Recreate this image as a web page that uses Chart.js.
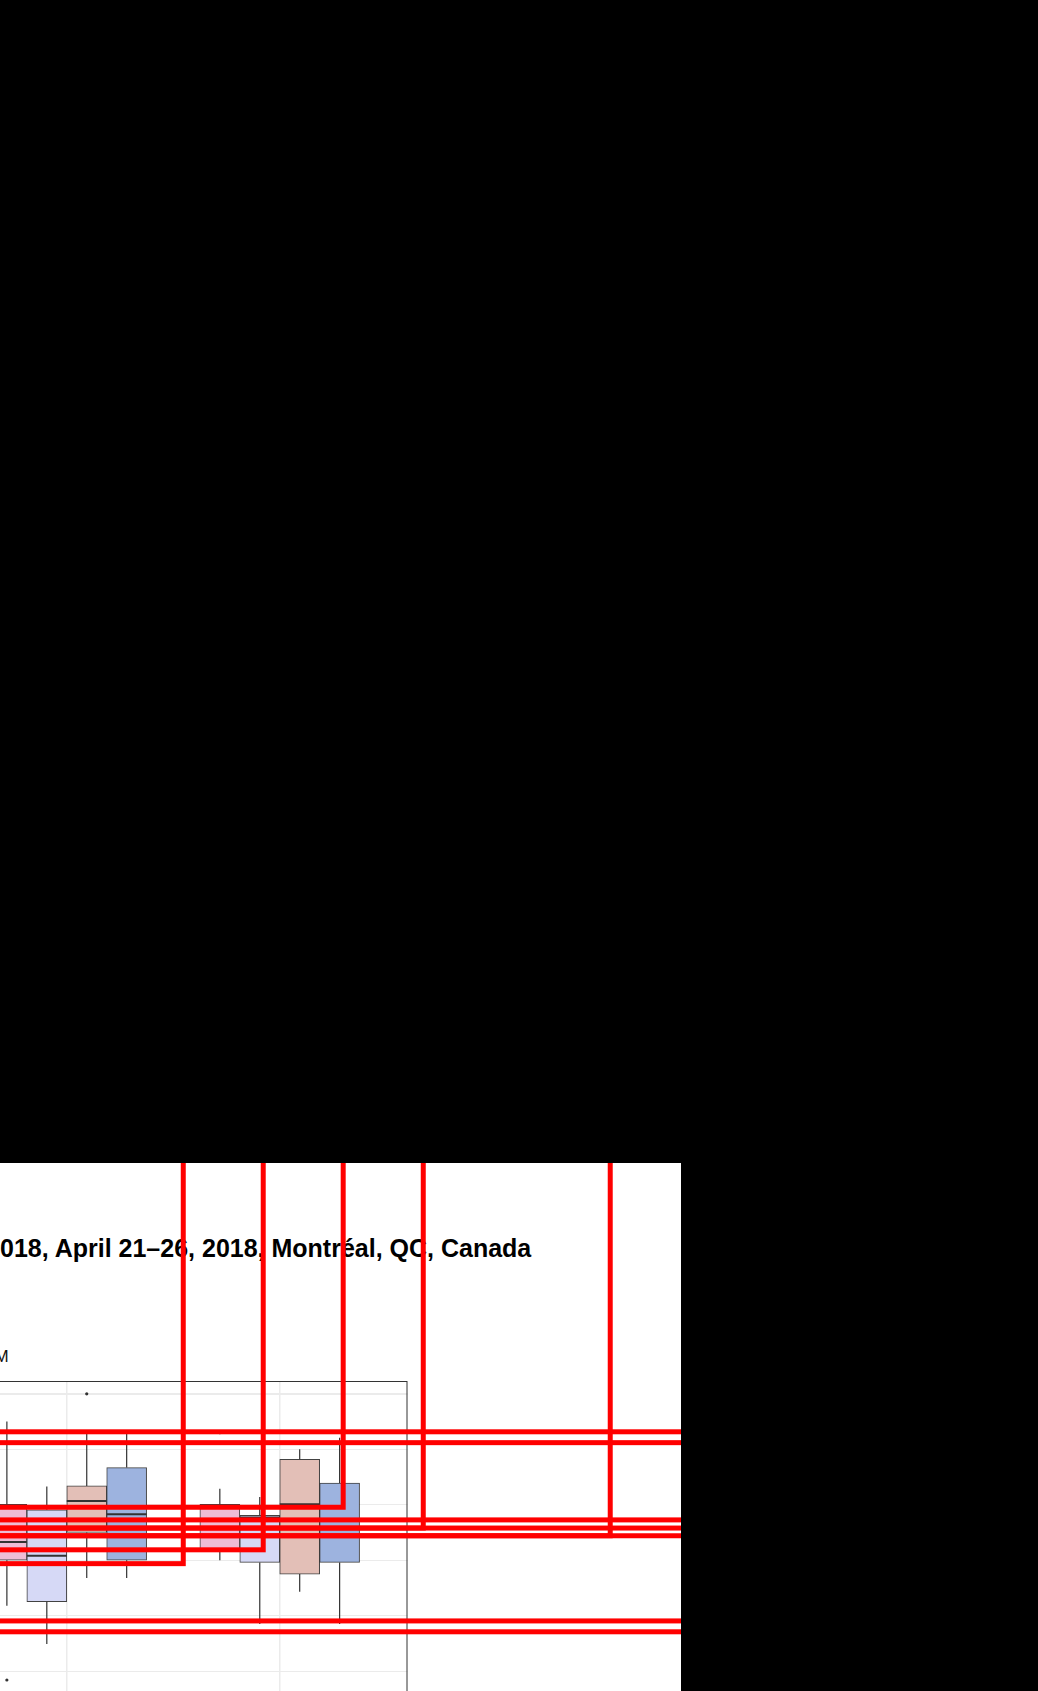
<!DOCTYPE html>
<html><head><meta charset="utf-8">
<script src="https://cdn.jsdelivr.net/npm/chart.js@4.4.1/dist/chart.umd.min.js"></script>
<style>
html,body{margin:0;padding:0;background:#000;width:1038px;height:1691px;overflow:hidden;}
#crop{position:absolute;left:0;top:1163px;width:681px;height:528px;background:#fff;overflow:hidden;}
#head{position:absolute;left:0;top:73px;font:bold 25px/25px "Liberation Sans",Arial,sans-serif;color:#000;white-space:nowrap;}
#lbl{position:absolute;left:-5.4px;top:184.6px;font:17px/17px "Liberation Sans",Arial,sans-serif;color:#111;white-space:nowrap;}
#c{position:absolute;left:-100px;top:0;}
</style></head>
<body>
<div id="crop">
<div id="head">018, April 21–26, 2018, Montréal, QC, Canada</div>
<div id="lbl">M</div>
<canvas id="c" width="781" height="623"></canvas>
</div>
<script>
// ---- data ----
const groups = [1, 2];                       // category positions (two visible groups)
// per series, per group: [whiskerLow, q1, median, q3, whiskerHigh]
const series1Box = [[3.18, 4.00, 4.33, 5.01, 6.50], [4.00, 4.20, 4.59, 5.01, 5.29]];
const series2Box = [[2.49, 3.25, 4.08, 4.91, 5.33], [2.85, 3.96, 4.77, 4.81, 5.14]];
const series3Box = [[3.68, 4.50, 5.07, 5.34, 6.32], [3.43, 3.75, 5.01, 5.82, 6.00]];
const series4Box = [[3.68, 4.00, 4.83, 5.67, 6.32], [2.85, 3.96, 4.57, 5.39, 6.21]];
// outliers per series, per group
const series1Out = [[1.84], [6.30]];
const series2Out = [[], []];
const series3Out = [[7.00], []];
const series4Out = [[], []];
// y grid ticks
const yTicks = [0, 1, 2, 3, 4, 5, 6, 7];
const yMajorTicks = [7];
// red highlight rectangles (data units): left, top, right, bottom
const markLeft   = [-1, -1, -1, -1, -1, -1, -1, -1, -1, -1, -1, -1];
const markTop    = [12, 12, 12, 12, 12, 12, 12, 12, 12, 12, 12, 12];
const markRight  = [1.547, 1.9225, 2.298, 2.674, 3.552, 4, 4, 4, 4, 4, 4, 4];
const markBottom = [3.938, 4.1875, 4.955, 4.580, 4.441, 6.316, 6.120, 4.727, 4.580, 4.441, 2.905, 2.709];

// ---- styling / layout ----
const boxSeries = [series1Box, series2Box, series3Box, series4Box];
const outSeries = [series1Out, series2Out, series3Out, series4Out];
const seriesColors = ['#EEBCD5', '#D6D9F6', '#E3BFB7', '#9DB3DF'];
const dodgeWidth = 0.75;
const dodge = i => (i - (boxSeries.length - 1) / 2) * dodgeWidth / boxSeries.length;

const datasets = boxSeries.map((s, si) => ({
  type: 'bar',
  data: s.map((b, gi) => ({ x: groups[gi] + dodge(si), y: [b[1], b[3]] })),
  backgroundColor: seriesColors[si],
  borderColor: 'rgba(45,45,45,0.9)',
  borderWidth: 1,
  borderSkipped: false,
  grouped: false,
  barPercentage: 1,
  categoryPercentage: 1
}));
const outPts = [];
outSeries.forEach((s, si) => s.forEach((vals, gi) => vals.forEach(v => outPts.push({ x: groups[gi] + dodge(si), y: v }))));
datasets.push({
  type: 'scatter', data: outPts, pointRadius: 1.6, pointBackgroundColor: '#333',
  pointBorderWidth: 0, showLine: false
});

const boxDecor = {
  id: 'boxDecor',
  beforeDatasetsDraw(chart) {
    const { ctx, scales: { x, y } } = chart;
    ctx.save();
    ctx.strokeStyle = '#333'; ctx.lineWidth = 1.2;
    boxSeries.forEach((s, si) => s.forEach((b, gi) => {
      const px = x.getPixelForValue(groups[gi] + dodge(si));
      ctx.beginPath();
      ctx.moveTo(px, y.getPixelForValue(b[0])); ctx.lineTo(px, y.getPixelForValue(b[1]));
      ctx.moveTo(px, y.getPixelForValue(b[3])); ctx.lineTo(px, y.getPixelForValue(b[4]));
      ctx.stroke();
    }));
    ctx.restore();
  },
  afterDatasetsDraw(chart) {
    const { ctx, scales: { x, y }, chartArea: a } = chart;
    ctx.save();
    ctx.strokeStyle = '#333'; ctx.lineWidth = 2;
    boxSeries.forEach((s, si) => {
      const meta = chart.getDatasetMeta(si);
      meta.data.forEach((bar, gi) => {
        const p = bar.getProps(['x', 'width'], true);
        const py = y.getPixelForValue(s[gi][2]);
        ctx.beginPath();
        ctx.moveTo(p.x - p.width / 2, py); ctx.lineTo(p.x + p.width / 2, py);
        ctx.stroke();
      });
    });
    // panel border
    ctx.strokeStyle = '#333'; ctx.lineWidth = 1;
    ctx.strokeRect(a.left, Math.round(a.top) + 0.5, a.right - a.left - 0.5, a.bottom - a.top);
    ctx.restore();
  },
  afterDraw(chart) {
    const { ctx, scales: { x, y } } = chart;
    ctx.save();
    ctx.strokeStyle = '#FF0000'; ctx.lineWidth = 5;
    markRight.forEach((r, i) => {
      const l = x.getPixelForValue(markLeft[i]), rr = x.getPixelForValue(r);
      const t = y.getPixelForValue(markTop[i]), b = y.getPixelForValue(markBottom[i]);
      ctx.strokeRect(l, t, rr - l, b - t);
    });
    ctx.restore();
  }
};

new Chart(document.getElementById('c'), {
  type: 'bar',
  data: { datasets },
  plugins: [boxDecor],
  options: {
    responsive: false, animation: false, devicePixelRatio: 1,
    layout: { padding: { left: 39, right: 273.5, top: 218, bottom: 0 } },
    plugins: { legend: { display: false }, tooltip: { enabled: false } },
    scales: {
      x: {
        type: 'linear', min: 0.4, max: 2.6, offset: false,
        afterBuildTicks: s => { s.ticks = groups.map(v => ({ value: v })); },
        ticks: { display: false },
        grid: { offset: false, drawTicks: false, color: '#EBEBEB', lineWidth: 1.5 },
        border: { display: false }
      },
      y: {
        type: 'linear', min: 0, max: 7.232, beginAtZero: false,
        afterBuildTicks: s => { s.ticks = yTicks.map(v => ({ value: v })); },
        ticks: { display: false },
        grid: { drawTicks: false, color: '#EBEBEB',
                lineWidth: c => (c.tick && yMajorTicks.includes(c.tick.value)) ? 2 : 1 },
        border: { display: false }
      }
    }
  }
});
</script>
</body></html>
